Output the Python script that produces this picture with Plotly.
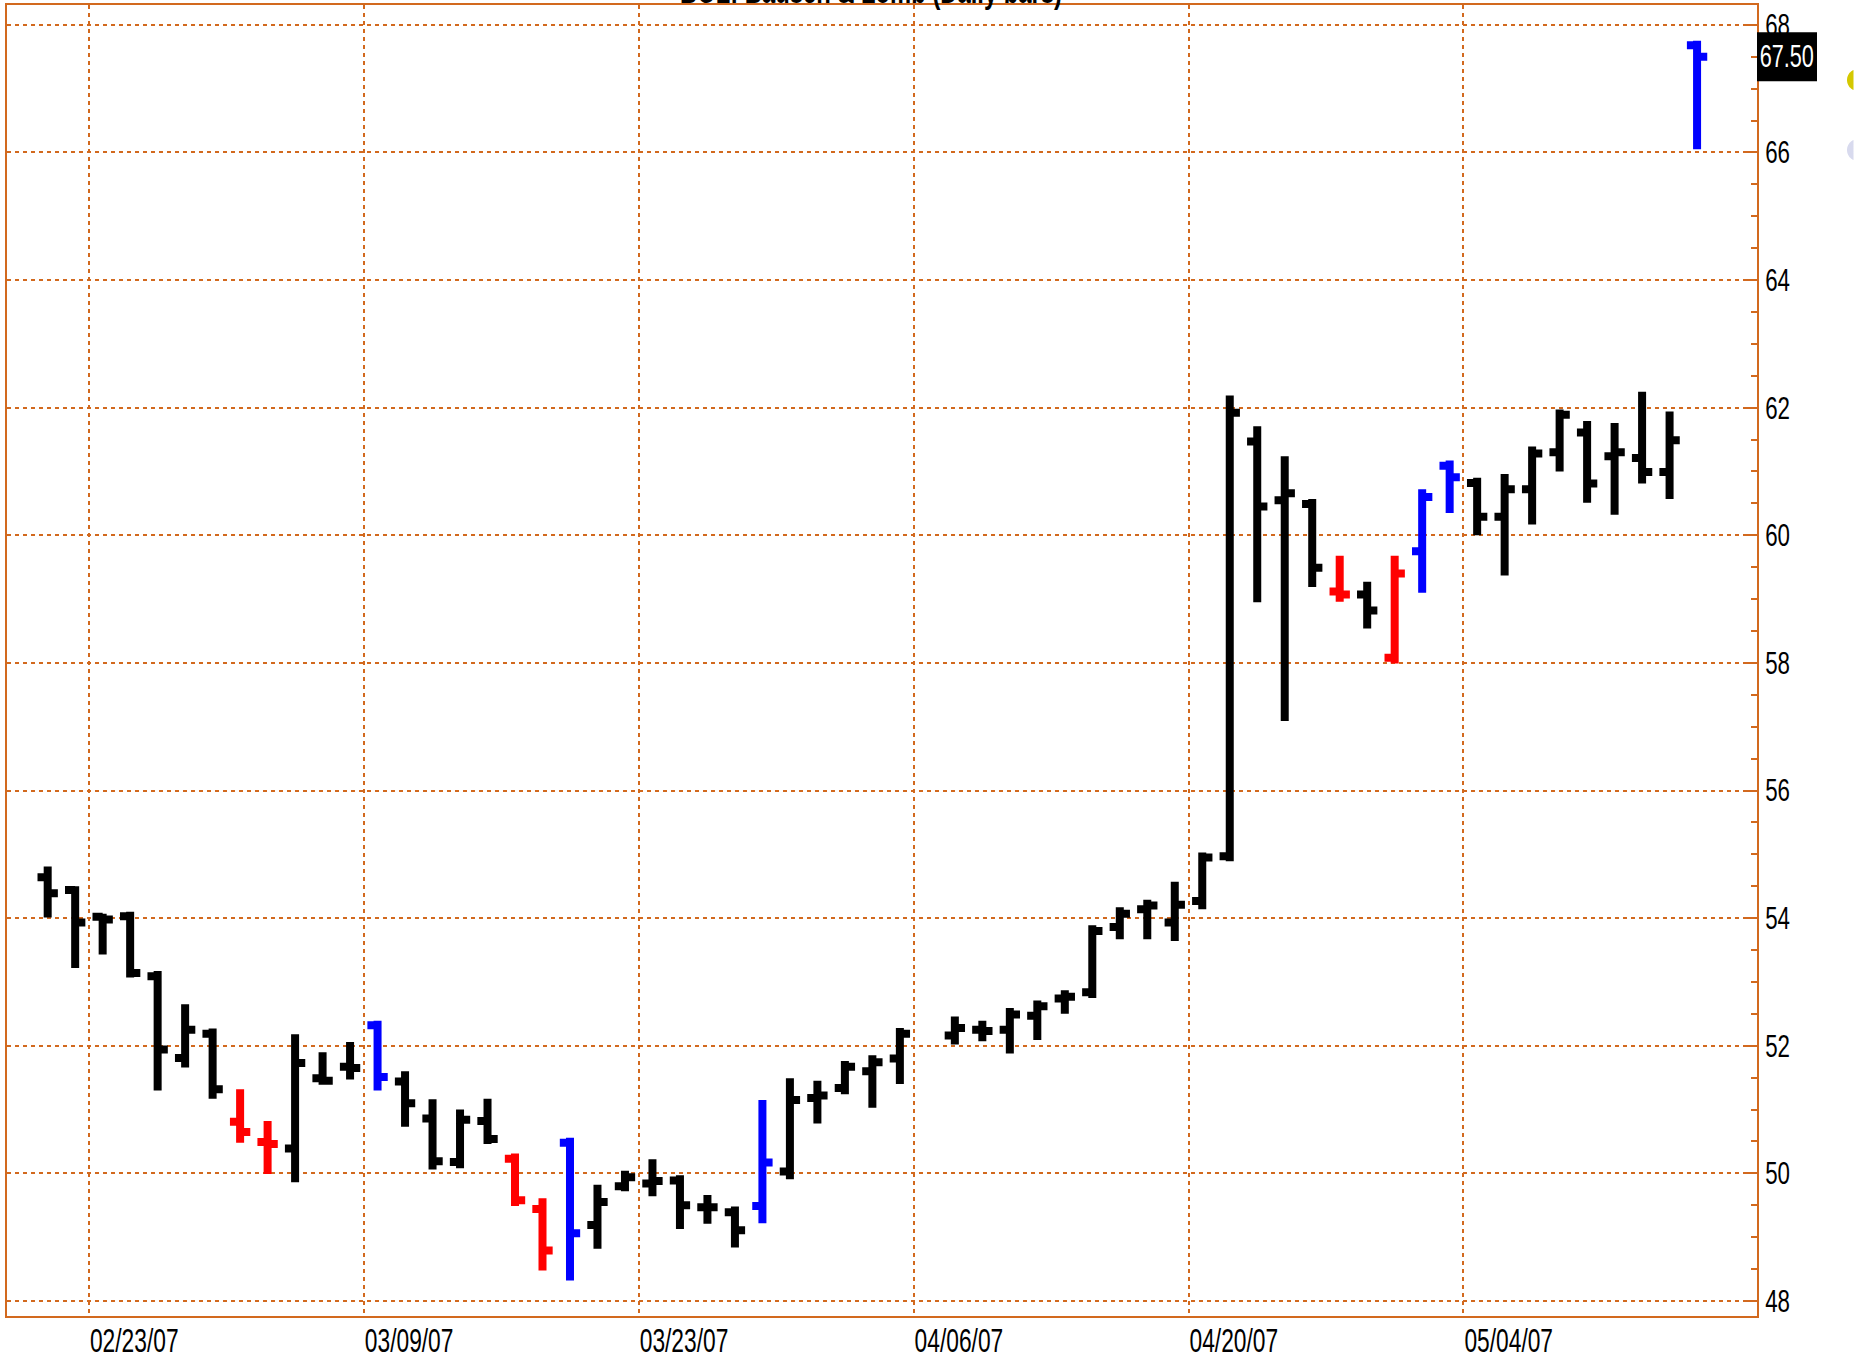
import numpy as np
import plotly.graph_objects as go

# ---------------- data ----------------
dates = [
    "2007-02-21", "2007-02-22", "2007-02-23", "2007-02-26", "2007-02-27", "2007-02-28",
    "2007-03-01", "2007-03-02", "2007-03-05", "2007-03-06", "2007-03-07", "2007-03-08",
    "2007-03-09", "2007-03-12", "2007-03-13", "2007-03-14", "2007-03-15", "2007-03-16",
    "2007-03-19", "2007-03-20", "2007-03-21", "2007-03-22", "2007-03-23", "2007-03-26",
    "2007-03-27", "2007-03-28", "2007-03-29", "2007-03-30", "2007-04-02", "2007-04-03",
    "2007-04-04", "2007-04-05", "2007-04-09", "2007-04-10", "2007-04-11", "2007-04-12",
    "2007-04-13", "2007-04-16", "2007-04-17", "2007-04-18", "2007-04-19", "2007-04-20",
    "2007-04-23", "2007-04-24", "2007-04-25", "2007-04-26", "2007-04-27", "2007-04-30",
    "2007-05-01", "2007-05-02", "2007-05-03", "2007-05-04", "2007-05-07", "2007-05-08",
    "2007-05-09", "2007-05-10", "2007-05-11", "2007-05-14", "2007-05-15", "2007-05-16",
]
opens = [
    54.64, 54.44, 54.02, 54.03, 53.09, 51.81, 52.19, 50.81, 50.49, 50.39, 51.49, 51.67,
    52.32, 51.44, 50.86, 50.18, 50.82, 50.23, 49.44, 50.48, 49.19, 49.80, 49.84, 49.89,
    49.47, 49.39, 49.49, 50.03, 51.18, 51.34, 51.60, 51.80, 52.16, 52.25, 52.25, 52.47,
    52.74, 52.84, 53.86, 54.14, 53.93, 54.27, 54.97, 61.47, 60.55, 60.49, 59.12, 59.07,
    58.08, 59.75, 61.09, 60.82, 60.29, 60.72, 61.30, 61.61, 61.24, 61.21, 60.99, 67.68,
]
highs = [
    54.81, 54.50, 54.07, 54.10, 53.17, 52.65, 52.27, 51.32, 50.82, 52.18, 51.90, 52.06,
    52.39, 51.60, 51.16, 51.00, 51.17, 50.31, 49.61, 50.56, 49.82, 50.04, 50.22, 49.97,
    49.66, 49.48, 51.15, 51.49, 51.45, 51.76, 51.85, 52.28, 52.46, 52.39, 52.59, 52.71,
    52.87, 53.89, 54.17, 54.29, 54.57, 55.03, 62.19, 61.71, 61.24, 60.57, 59.68, 59.27,
    59.68, 60.72, 61.17, 60.90, 60.96, 61.39, 61.97, 61.79, 61.76, 62.25, 61.94, 67.75,
]
lows = [
    54.01, 53.22, 53.43, 53.07, 51.30, 51.66, 51.17, 50.48, 49.99, 49.86, 51.39, 51.47,
    51.30, 50.73, 50.06, 50.08, 50.46, 49.49, 48.48, 48.32, 48.82, 49.72, 49.64, 49.13,
    49.21, 48.84, 49.22, 49.91, 50.78, 51.24, 51.03, 51.40, 52.02, 52.07, 51.88, 52.09,
    52.50, 52.75, 53.67, 53.67, 53.64, 54.14, 54.89, 58.95, 57.09, 59.19, 58.96, 58.54,
    57.99, 59.10, 60.35, 60.00, 59.37, 60.17, 61.00, 60.51, 60.32, 60.81, 60.57, 66.05,
]
closes = [
    54.39, 53.93, 53.98, 53.14, 51.94, 52.25, 51.32, 50.65, 50.46, 51.73, 51.45, 51.65,
    51.51, 51.10, 50.19, 50.84, 50.54, 49.58, 48.79, 49.06, 49.55, 49.94, 49.88, 49.50,
    49.47, 49.11, 50.17, 51.15, 51.22, 51.67, 51.74, 52.19, 52.28, 52.23, 52.49, 52.62,
    52.77, 53.80, 54.07, 54.20, 54.21, 54.95, 61.92, 60.45, 60.66, 59.49, 59.07, 58.82,
    59.40, 60.60, 60.91, 60.29, 60.72, 61.28, 61.89, 60.81, 61.30, 60.99, 61.49, 67.50,
]
bar_colors = (
    ["black"] * 7 + ["red", "red"] + ["black"] * 3 + ["blue"] + ["black"] * 4
    + ["red", "red", "blue"] + ["black"] * 6 + ["blue"] + ["black"] * 19
    + ["red", "black", "red", "blue", "blue"] + ["black"] * 8 + ["blue"]
)
tick_dates = ["2007-02-23", "2007-03-09", "2007-03-23", "2007-04-06", "2007-04-20", "2007-05-04"]
tick_labels = ["02/23/07", "03/09/07", "03/23/07", "04/06/07", "04/20/07", "05/04/07"]
title_text = "BOL: Bausch & Lomb (Daily bars)"
last_price_label = "67.50"

# ---------------- styling ----------------
ORANGE = "#D2691E"
FONT = "Liberation Sans, Arial, sans-serif"
COLOR_MAP = {"black": "#000000", "red": "#FF0000", "blue": "#0000FF"}

W, H = 1865, 1366
L, R, T, B = 7, 108, 5, 50
PW, PH = W - L - R, H - T - B
YR = [47.765, 68.31]
PX_PER_UNIT = PH / (YR[1] - YR[0])

# trading-day slot positions (weekday calendar, holidays stay as blank slots)
xpos = np.array([np.busday_count(dates[0], d) for d in dates], dtype=float)
tick_pos = [np.busday_count(dates[0], d) - 0.5 for d in tick_dates]

fig = go.Figure()
for cname, ccode in COLOR_MAP.items():
    idx = [i for i, c in enumerate(bar_colors) if c == cname]
    if not idx:
        continue
    fig.add_trace(go.Ohlc(
        x=xpos[idx],
        open=[opens[i] for i in idx],
        high=[highs[i] for i in idx],
        low=[lows[i] for i in idx],
        close=[closes[i] for i in idx],
        increasing=dict(line=dict(color=ccode, width=8)),
        decreasing=dict(line=dict(color=ccode, width=8)),
        tickwidth=0.37,
        showlegend=False,
        hoverinfo="skip",
    ))

fig.update_layout(
    width=W, height=H,
    margin=dict(l=L, r=R, t=T, b=B, pad=0, autoexpand=False),
    paper_bgcolor="white",
    plot_bgcolor="white",
    font=dict(family=FONT, color="black", size=31),
    showlegend=False,
)

fig.update_xaxes(
    range=[-1.48, 62.18],
    tickvals=tick_pos,
    ticktext=tick_labels,
    ticks="",
    ticklabelposition="outside right",
    ticklabelstandoff=-7,
    tickfont=dict(family=FONT, size=34, color="black"),
    showgrid=True,
    gridcolor=ORANGE,
    gridwidth=2,
    griddash="4px,4px",
    zeroline=False,
    showline=True,
    mirror=True,
    linecolor=ORANGE,
    linewidth=2,
    automargin=False,
    rangeslider=dict(visible=False),
    fixedrange=True,
)
fig.update_yaxes(
    side="right",
    range=YR,
    tick0=48,
    dtick=2,
    ticks="inside",
    ticklen=12,
    tickwidth=2,
    tickcolor=ORANGE,
    ticklabelstandoff=0,
    tickfont=dict(family=FONT, size=31, color="black"),
    minor=dict(dtick=0.5, ticks="inside", ticklen=6, tickwidth=2, tickcolor=ORANGE, showgrid=False),
    showgrid=True,
    gridcolor=ORANGE,
    gridwidth=2,
    griddash="4px,4px",
    zeroline=False,
    showline=True,
    mirror=True,
    linecolor=ORANGE,
    linewidth=2,
    automargin=False,
    fixedrange=True,
)

# title (mostly clipped above the page, as in the reference)
fig.add_annotation(
    text=title_text, xref="paper", yref="paper", x=(871 - L) / PW, y=1,
    xanchor="center", yanchor="bottom", yshift=-7, showarrow=False,
    font=dict(family=FONT, size=34, color="black", weight="bold"),
)

# last price flag: black box + white text
box_half = 24.5 / PX_PER_UNIT
fig.add_shape(type="rect", xref="paper", yref="y",
              x0=1.0, x1=1.0 + 60 / PW, y0=closes[-1] - box_half, y1=closes[-1] + box_half,
              fillcolor="black", line=dict(width=0), layer="above")
fig.add_annotation(
    text=last_price_label, xref="paper", yref="y", x=1.0 + 30 / PW, y=closes[-1],
    xanchor="center", yanchor="middle", showarrow=False,
    font=dict(family=FONT, size=31, color="white"),
)

# clipped marker discs at the right edge
def px_to_paper(px, py):
    return (px - L) / PW, (H - B - py) / PH

def segment_path(cx, cy, r, cut_x):
    half = np.arccos((cut_x - cx) / r)
    angs = np.linspace(half, 2 * np.pi - half, 40)
    pts = [px_to_paper(cx + r * np.cos(a), cy - r * np.sin(a)) for a in angs]
    return "M " + " L ".join(f"{x:.5f},{y:.5f}" for x, y in pts) + " Z"

for cy, col in [(80, "#D4C800"), (150, "#D8DAEE")]:
    fig.add_shape(type="path", xref="paper", yref="paper",
                  path=segment_path(1858, cy, 11, 1853.5),
                  fillcolor=col, line=dict(width=0), layer="above")

# page without body margin; narrow (condensed) look of the original lettering
post_script = """
(function(){
  document.body.style.margin = '0';
  document.body.style.padding = '0';
  document.body.style.overflow = 'hidden';
  var gd = document.getElementById('{plot_id}');
  if (!gd) return;
  function sq(sel, f){
    gd.querySelectorAll(sel).forEach(function(t){
      if (t.getAttribute('data-sq')) return;
      var x = parseFloat(t.getAttribute('x') || '0');
      var tr = t.getAttribute('transform') || '';
      t.setAttribute('transform', tr + ' translate(' + x + ',0) scale(' + f + ',1) translate(' + (-x) + ',0)');
      t.setAttribute('data-sq', '1');
    });
  }
  sq('.xtick text', 0.67);
  sq('.ytick text', 0.72);
  sq('.annotation-text', 0.70);
})();
"""

fig.write_html("out.html", config={"displayModeBar": False}, post_script=post_script)
